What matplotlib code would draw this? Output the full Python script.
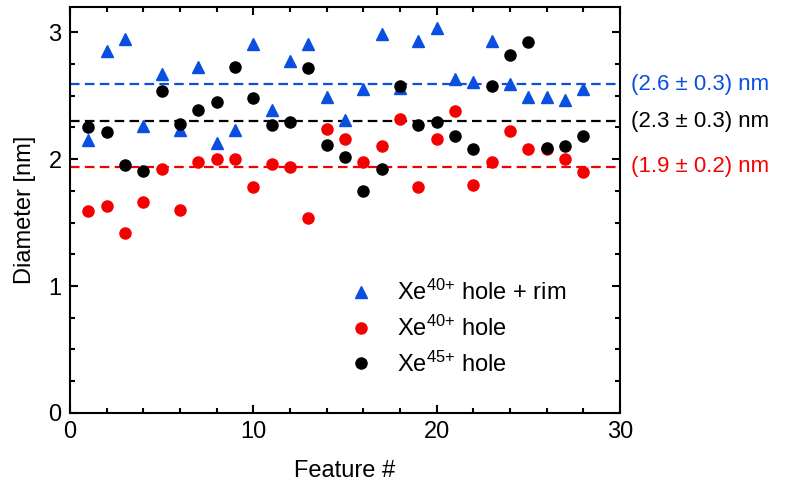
import matplotlib
matplotlib.use("Agg")
import matplotlib.pyplot as plt
from matplotlib.ticker import MultipleLocator

plt.rcParams['font.family'] = ['Liberation Sans', 'DejaVu Sans']
plt.rcParams['font.size'] = 16
plt.rcParams['mathtext.fontset'] = 'custom'
plt.rcParams['mathtext.rm'] = 'Liberation Sans'
plt.rcParams['mathtext.it'] = 'Liberation Sans:italic'
plt.rcParams['mathtext.bf'] = 'Liberation Sans:bold'

features = list(range(1, 29))

# Xe40+ hole + rim
rim40 = [2.15, 2.85, 2.95, 2.26, 2.67, 2.23, 2.73, 2.13, 2.23, 2.91,
         2.39, 2.77, 2.91, 2.49, 2.31, 2.55, 2.99, 2.56, 2.93, 3.03,
         2.63, 2.61, 2.93, 2.59, 2.49, 2.49, 2.47, 2.55]
# Xe40+ hole
hole40 = [1.59, 1.63, 1.42, 1.66, 1.92, 1.60, 1.98, 2.00, 2.00, 1.78,
          1.96, 1.94, 1.54, 2.24, 2.16, 1.98, 2.10, 2.32, 1.78, 2.16,
          2.38, 1.80, 1.98, 2.22, 2.08, 2.08, 2.00, 1.90]
# Xe45+ hole
hole45 = [2.25, 2.21, 1.95, 1.91, 2.54, 2.28, 2.39, 2.45, 2.73, 2.48,
          2.27, 2.29, 2.72, 2.11, 2.02, 1.75, 1.92, 2.58, 2.27, 2.29,
          2.18, 2.08, 2.58, 2.82, 2.92, 2.09, 2.10, 2.18]

means = [2.59, 2.30, 1.94]
mean_labels = ['(2.6 ± 0.3) nm', '(2.3 ± 0.3) nm', '(1.9 ± 0.2) nm']

blue = '#0a4fe0'
red = '#f50000'
colors = [blue, 'black', red]

fig = plt.figure(figsize=(7.95, 4.91), dpi=100)
ax = fig.add_axes([0.088, 0.159, 0.692, 0.827])

ax.plot(features, rim40, '^', color=blue, markersize=8, label=r'Xe$^{\mathrm{40{+}}}$ hole + rim')
ax.plot(features, hole40, 'o', color=red, markersize=8, label=r'Xe$^{\mathrm{40{+}}}$ hole')
ax.plot(features, hole45, 'o', color='black', markersize=8, label=r'Xe$^{\mathrm{45{+}}}$ hole')

for m, c, t in zip(means, colors, mean_labels):
    ax.axhline(m, color=c, lw=1.6, linestyle=(0, (4.3, 2.4)), zorder=0)
    ax.text(1.02, m, t, color=c, transform=ax.get_yaxis_transform(),
            va='center', ha='left', fontsize=16)

ax.set_xlim(0, 30)
ax.set_ylim(0, 3.2)
ax.xaxis.set_major_locator(MultipleLocator(10))
ax.xaxis.set_minor_locator(MultipleLocator(2))
ax.yaxis.set_major_locator(MultipleLocator(1))
ax.yaxis.set_minor_locator(MultipleLocator(0.25))
ax.tick_params(which='both', direction='in', top=True, right=True, width=1.5)
ax.tick_params(which='major', length=6, labelsize=17, pad=6)
ax.tick_params(which='minor', length=3.5)
for s in ax.spines.values():
    s.set_linewidth(1.5)

ax.set_xlabel('Feature #', fontsize=17, labelpad=12)
ax.set_ylabel('Diameter [nm]', fontsize=17, labelpad=9)

ax.legend(loc='upper left', bbox_to_anchor=(0.465, 0.38), frameon=False,
          handlelength=1.2, handletextpad=0.9, labelspacing=0.45, fontsize=17)

fig.savefig('out.png', dpi=100)
